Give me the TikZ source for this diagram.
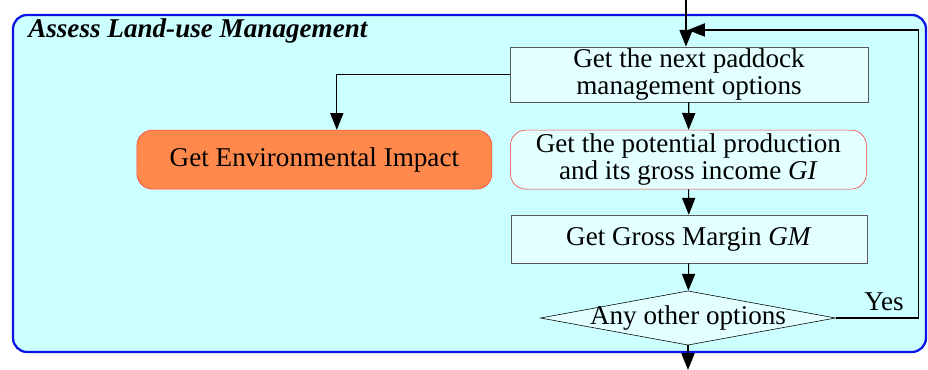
\documentclass[tikz,border=0pt]{standalone}
\usepackage{fontspec}
\setmainfont{Liberation Serif}
\usepackage{xcolor}
\usetikzlibrary{positioning,arrows.meta,calc,shapes.geometric}

\definecolor{landbg}{HTML}{CCFFFF}
\definecolor{stepfill}{HTML}{E3FFFF}
\definecolor{impactfill}{HTML}{FF884D}
\definecolor{framblue}{HTML}{0A14E6}

\begin{document}
\begin{tikzpicture}[
  font=\fontsize{19.3}{18.8}\selectfont,
  frame/.style ={draw=framblue,line width=1.6pt,rounded corners=10pt,fill=landbg},
  task/.style  ={draw=black!65,fill=stepfill,align=center,inner sep=0pt},
  calc/.style  ={draw=red!80,fill=stepfill,rounded corners=11pt,align=center,inner sep=0pt,minimum width=8.9cm,minimum height=1.475cm},
  impact/.style={draw=red!75,fill=impactfill,rounded corners=11pt,align=center,inner sep=0pt,minimum width=8.875cm,minimum height=1.475cm},
  query/.style ={diamond,aspect=5.44,draw=black,thin,fill=stepfill,inner xsep=-0.5pt,inner ysep=-2.2pt},
  arrow/.style ={-{Triangle[length=4.2mm,width=3.3mm]},thick,black}
]
\useasboundingbox (0,0) rectangle (23.2,-9.25);
% outer frame with its title
\draw[frame] (0.325,-0.375) rectangle (23.15,-8.8);
\node[anchor=west,inner sep=0pt,font=\fontsize{19.3}{18.8}\selectfont\bfseries\itshape] (title) at (0.7,-0.78) {Assess Land-use Management};
% flow column (centre x = 17.2)
\coordinate (in)   at (17.15,0);
\coordinate (join) at (17.2,-0.75);
\coordinate (out)  at (17.2,-9.25);
\node[task,minimum width=8.95cm,minimum height=1.375cm] (next) at (17.225,-1.86) {Get the next paddock\\management options};
\node[calc]   (prod)  at (17.21,-3.99) {Get the potential production\\and its gross income \textit{GI}};
\node[task,minimum width=8.9cm,minimum height=1.2cm] (gm) at (17.225,-5.975) {Get Gross Margin \textit{GM}};
\node[query]  (other) at (17.2,-7.95) {Any other options};
\node[impact] (env)   at (7.86,-3.99) {Get Environmental Impact};
\node (yes) at (22.1,-7.55) {Yes};
\draw[arrow] (in) -- (next.north -| in);
\draw[arrow] (next) -- (prod);
\draw[arrow] (prod) -- (gm);
\draw[arrow] (gm) -- (other);
\draw[arrow] (other) -- (out);
\draw[arrow] (next.west) -| ([xshift=5.6mm]env.north);
\draw[arrow] (other.east) -| (22.96,-0.75) -- (join);
\end{tikzpicture}
\end{document}
